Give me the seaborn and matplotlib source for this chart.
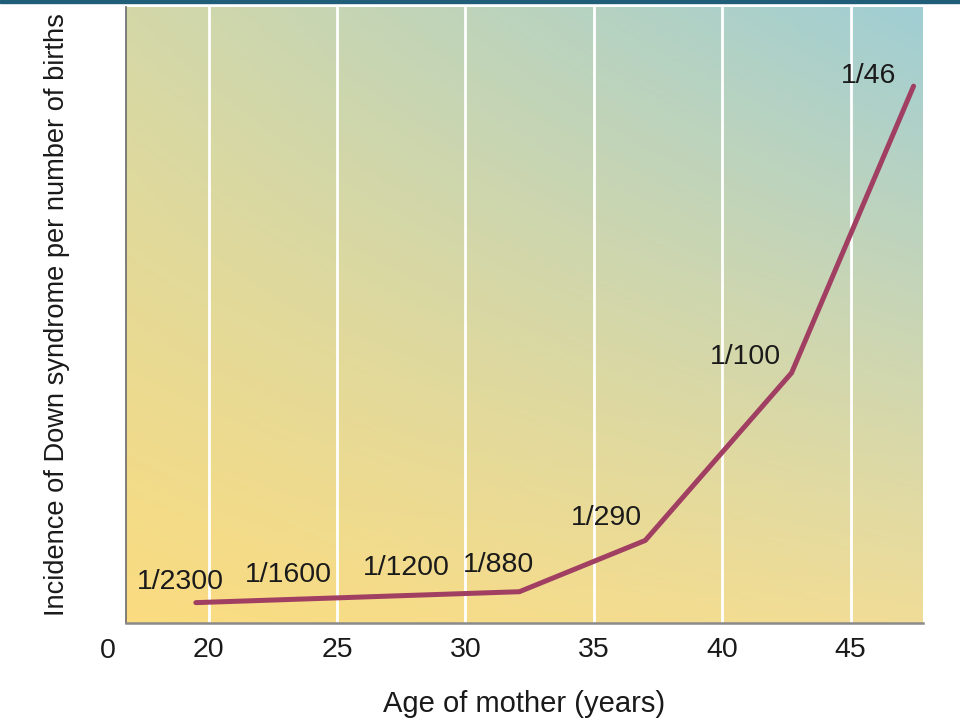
import numpy as np
import pandas as pd
import matplotlib
matplotlib.use("Agg")
import matplotlib.pyplot as plt
from matplotlib.patches import Rectangle
import seaborn as sns

# values
ages = [19.5, 32.1, 37.0, 42.7, 47.45]
incidence = [0.00044, 0.00089, 0.0030, 0.0099, 0.0217]

labels = ["1/2300", "1/1600", "1/1200", "1/880", "1/290", "1/100", "1/46"]
label_ages = [18.9, 23.1, 27.7, 31.3, 35.5, 40.9, 45.7]
label_y = [0.0013, 0.00159, 0.00188, 0.0020, 0.00393, 0.01056, 0.0221]

grid_ages = [20, 25, 30, 35, 40, 45]

sns.set_theme(style="white")
plt.rcParams["font.family"] = ["Liberation Sans", "DejaVu Sans"]

df = pd.DataFrame({"age": ages, "incidence": incidence})

fig = plt.figure(figsize=(9.6, 7.2), dpi=100)
ax = fig.add_axes([0.131, 0.135, 0.830, 0.855])

xlim = (16.77, 47.8)
ylim = (-0.00039, 0.02495)

# background gradient (bilinear between four corner colours)
tl = np.array([212, 216, 168]) / 255
tr = np.array([160, 206, 212]) / 255
bl = np.array([251, 220, 128]) / 255
br = np.array([240, 221, 152]) / 255
u = np.linspace(0, 1, 200)[None, :, None]
v = np.linspace(0, 1, 200)[:, None, None]
top = tl * (1 - u) + tr * u
bot = bl * (1 - u) + br * u
img = top * (1 - v) + bot * v
ax.imshow(img, extent=[xlim[0], xlim[1], ylim[0], ylim[1]], origin="upper",
          aspect="auto", zorder=0)

for g in grid_ages:
    ax.axvline(g, color="white", lw=2.0, zorder=1)

sns.lineplot(data=df, x="age", y="incidence", color="#A13F62", lw=3.6,
             ax=ax, zorder=3)

for t, xa, ya in zip(labels, label_ages, label_y):
    ax.text(xa, ya, t, ha="center", va="center", fontsize=20.5,
            color="#1a1a1a", zorder=4)

ax.set_xlim(xlim)
ax.set_ylim(ylim)
ax.set_xticks(grid_ages)
ax.set_xticklabels([str(g) for g in grid_ages])
ax.set_yticks([])
ax.tick_params(axis="x", length=0, pad=10, labelsize=20.5, labelcolor="#1a1a1a")
ax.text(-0.023, -0.025, "0", transform=ax.transAxes, ha="center", va="top",
        fontsize=20.5, color="#1a1a1a")

ax.set_xlabel("Age of mother (years)", fontsize=21, labelpad=20, color="#1a1a1a")
ax.set_ylabel("Incidence of Down syndrome per number of births", fontsize=19.6,
              labelpad=40, color="#1a1a1a")

for s in ["top", "right"]:
    ax.spines[s].set_visible(False)
ax.spines["left"].set_color("#6a6a6a")
ax.spines["left"].set_linewidth(1.2)
ax.spines["bottom"].set_color("#8a8a8a")
ax.spines["bottom"].set_linewidth(1.8)

# thin dark strip along the top edge
fig.patches.append(Rectangle((0, 0.996), 1, 0.004, transform=fig.transFigure,
                             color="#1f5d78", zorder=5))

fig.savefig("out.png", dpi=100)
